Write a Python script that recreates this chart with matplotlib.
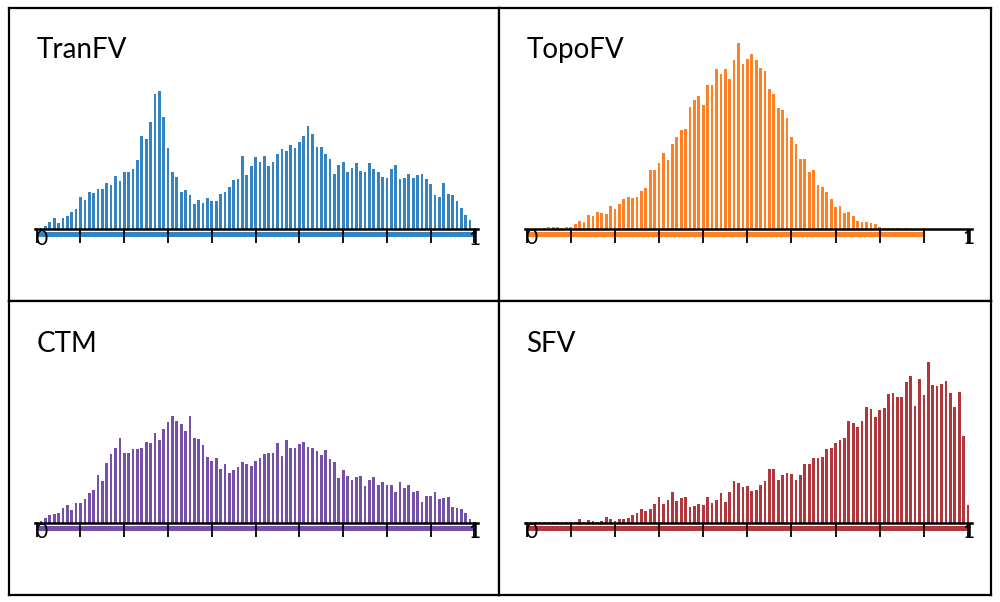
import numpy as np
import matplotlib
matplotlib.use("Agg")
import matplotlib.pyplot as plt

plt.rcParams["font.family"] = ["Lato", "DejaVu Sans"]

# bar heights per bin (bins at 0.00, 0.01, ... 1.00)
tranfv = [1, 1, 3, 7, 11, 6, 11, 13, 17, 20,
          32, 29, 37, 36, 40, 40, 46, 44, 53, 48,
          57, 57, 60, 69, 93, 90, 107, 135, 138, 112,
          81, 57, 52, 37, 39, 34, 25, 29, 26, 31,
          28, 28, 35, 37, 42, 49, 50, 73, 54, 63,
          72, 67, 73, 63, 67, 75, 80, 78, 84, 81,
          87, 93, 103, 95, 82, 82, 75, 70, 55, 64,
          67, 57, 61, 66, 58, 57, 66, 60, 57, 52,
          51, 60, 64, 50, 51, 55, 51, 54, 55, 50,
          45, 34, 32, 46, 35, 34, 28, 21, 14, 9, 1]

topofv = [0.3, 0.3, 0.5, 0.5, 0.7, 1.7, 1.7, 1.7, 0.7, 2.3,
          1.7, 4.7, 7.7, 7, 13.7, 13, 17, 16, 14.7, 22.7,
          19.7, 24.7, 29.7, 32.3, 31.3, 32.3, 37.7, 41.3, 59, 59,
          65.7, 75.7, 69, 84.7, 92.3, 99, 100, 121.7, 129.3, 133.3,
          124, 144.3, 144.3, 160, 155, 160, 149.7, 168.7, 186.3, 165,
          170, 175.3, 169, 161.3, 158, 139.7, 135.3, 120.7, 119, 111.3,
          91.7, 84.7, 70.3, 70.3, 57, 58.7, 44.3, 42.3, 36.7, 29.7,
          22, 22.7, 15.7, 17.3, 13.3, 8.3, 6.7, 6.7, 6.3, 5.3,
          2.3, 1, 0.7, 0.7, 0.7, 0.5, 0.7, 0.5, 0.5, 0.5,
          1, 0, 0, 0, 0, 0, 0, 0, 0, 0, 0]

ctm = [0.7, 2, 5, 7.7, 8.7, 9.3, 15, 17.3, 12.3, 19.3,
       19.3, 24, 30, 32.3, 47.7, 42, 59.3, 68.3, 74.3, 84.7,
       69.3, 69.3, 73.3, 73.3, 75, 81, 79.3, 90, 82.7, 93.7,
       100.7, 107, 102, 99, 91.7, 106.7, 84.3, 83.3, 77.3, 65.3,
       61.7, 64.7, 53.3, 58.7, 49.3, 52.7, 56, 60.7, 58.3, 56.7,
       61.7, 64.3, 68.3, 69.7, 69.7, 79.7, 67, 82.3, 74.3, 74.3,
       78.3, 81, 75.3, 74.7, 72, 67.3, 72.7, 63.3, 60.7, 44.3,
       52.7, 46.7, 42.7, 46, 47, 36.3, 42.7, 45.3, 37.7, 40.3,
       38, 38, 30.3, 41, 35, 37.3, 30.3, 32, 21, 26.3,
       26.3, 31, 24, 24.3, 25.3, 16, 15, 13.3, 9.3, 3.7, 0.7]

sfv = [0.3, 0.3, 0.3, 0.3, 0.3, 0.7, 0.7, 0.7, 0.7, 0.7,
       0.7, 0.7, 3.7, 0.7, 2.3, 1.7, 1, 1.7, 5.7, 3.3,
       1.3, 3.3, 3.3, 4.3, 7.3, 9.3, 13.3, 11.7, 13.7, 18.3,
       26, 18.3, 22.3, 30.3, 22, 24.7, 25.7, 16, 17, 18.7,
       17.3, 26, 19.7, 22.7, 29.3, 21, 30.3, 41.7, 39.3, 35.7,
       36.3, 31.7, 32.7, 37.7, 42, 53.3, 53.3, 42.7, 48, 50,
       48.7, 42.3, 48, 58.3, 59, 64.3, 64.3, 65.7, 73.3, 74.7,
       79.3, 82.7, 84.3, 101.7, 100, 96, 101.3, 115.3, 113.3, 105.7,
       113, 115, 128.7, 129.3, 126, 126, 141, 146.7, 116.7, 143.3,
       127.7, 161, 137.3, 136.3, 138.3, 142, 129.7, 115.7, 131, 87, 17.7]

names = ["TranFV", "TopoFV", "CTM", "SFV"]
series = [tranfv, topofv, ctm, sfv]
colors = ["#3683c1", "#ff8126", "#7650a8", "#b2373d"]
band_ends = [1.0, 0.9, 1.0, 1.0]
bins = np.linspace(0, 1, 101)

W, H = 1000, 602
fig = plt.figure(figsize=(W / 100, H / 100), dpi=100)


def px_box(x0, y0, x1, y1):
    return [x0 / W, 1 - y1 / H, (x1 - x0) / W, (y1 - y0) / H]


# panel frames (pixels): left, top, right, bottom
frames = [(9, 8, 498.5, 301), (498.5, 8, 991, 301),
          (9, 301, 498.5, 595), (498.5, 301, 991, 595)]
# pixel position of x=0, x=1 and the baseline in each panel
x0s = [36.7, 526.7, 36.7, 526.7]
x1s = [474.5, 968.0, 474.5, 968.0]
bases = [229.3, 229.0, 522.7, 522.7]

xlo, xhi = -0.004, 1.008
ylo, yhi = -25, 205

for i in range(4):
    fx0, fy0, fx1, fy1 = frames[i]
    frame = fig.add_axes(px_box(fx0, fy0, fx1, fy1))
    frame.set_xticks([])
    frame.set_yticks([])
    for s in frame.spines.values():
        s.set_linewidth(1.6)
        s.set_color("black")
    frame.set_zorder(0)

    sc = x1s[i] - x0s[i]
    b = bases[i]
    ax = fig.add_axes(px_box(x0s[i] + xlo * sc, b - yhi, x0s[i] + xhi * sc, b - ylo))
    ax.set_facecolor("none")
    ax.set_zorder(1)
    ax.bar(bins, series[i], width=0.0062, color=colors[i], linewidth=0, zorder=1)
    ax.hlines(-5, 0, band_ends[i], color=colors[i], lw=3.6, zorder=1.2)
    ax.set_xlim(xlo, xhi)
    ax.set_ylim(ylo, yhi)
    for side in ["left", "right", "top"]:
        ax.spines[side].set_visible(False)
    ax.spines["bottom"].set_position(("data", 0))
    ax.spines["bottom"].set_linewidth(1.8)
    ax.set_yticks([])
    ax.set_xticks(np.linspace(0, 1, 11))
    ax.tick_params(axis="x", direction="out", length=10, width=1.3,
                   labelbottom=False)
    ax.text(-0.002, -15.5, "0", ha="left", va="baseline", fontsize=15)
    ax.text(1.0, -15.5, "1", ha="center", va="baseline", fontsize=15)

    fig.text((x0s[i] - 0.5) / W, 1 - (b - 171) / H, names[i],
             ha="left", va="baseline", fontsize=20)

fig.savefig("out.png", dpi=100, facecolor="white")
